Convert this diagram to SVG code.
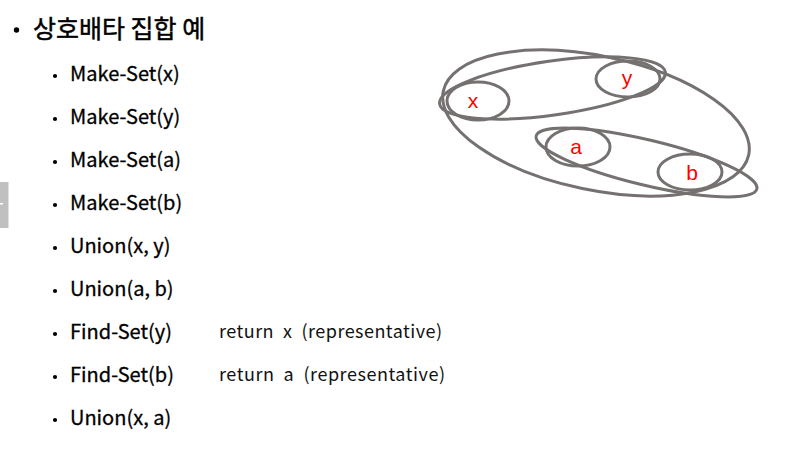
<svg xmlns="http://www.w3.org/2000/svg" width="785" height="472" viewBox="0 0 785 472">
<style>
.title{font-family:"Noto Sans CJK KR","Noto Sans",sans-serif;font-size:25px;font-weight:400;fill:#000;stroke:#000;stroke-width:0.45}
.item{font-family:"Noto Sans CJK KR","Noto Sans",sans-serif;font-size:20px;font-weight:400;fill:#000;stroke:#000;stroke-width:0.3}
.ret{font-family:"Noto Sans CJK KR","Noto Sans",sans-serif;font-size:18px;font-weight:400;fill:#111}
.dot{fill:#000}
.set{fill:none;stroke:#767171;stroke-width:3}
.lbl{font-family:"Liberation Sans","Noto Sans",sans-serif;font-size:21px;fill:#ff0000;text-anchor:middle}
</style>
<rect x="0" y="0" width="785" height="472" fill="#ffffff"/>
<g id="sidetab">
<rect x="0" y="182" width="8.5" height="46" fill="#c0c0c0"/>
<rect x="0" y="203" width="3" height="1.5" fill="#ffffff"/>
</g>
<g id="title">
<circle class="dot" cx="16.5" cy="30" r="2.7"/>
<text class="title" x="33" y="38">상호배타 집합 예</text>
</g>
<g id="list">
<g id="item1"><circle class="dot" cx="55" cy="76" r="2.1"/><text class="item" x="70" y="81">Make-Set(x)</text></g>
<g id="item2"><circle class="dot" cx="55" cy="119" r="2.1"/><text class="item" x="70" y="124">Make-Set(y)</text></g>
<g id="item3"><circle class="dot" cx="55" cy="162" r="2.1"/><text class="item" x="70" y="167">Make-Set(a)</text></g>
<g id="item4"><circle class="dot" cx="55" cy="205" r="2.1"/><text class="item" x="70" y="210">Make-Set(b)</text></g>
<g id="item5"><circle class="dot" cx="55" cy="248" r="2.1"/><text class="item" x="70" y="253">Union(x, y)</text></g>
<g id="item6"><circle class="dot" cx="55" cy="291" r="2.1"/><text class="item" x="70" y="296">Union(a, b)</text></g>
<g id="item7"><circle class="dot" cx="55" cy="334" r="2.1"/><text class="item" x="70" y="339">Find-Set(y)</text><text class="ret" x="219" y="338" textLength="223" lengthAdjust="spacing" xml:space="preserve">return  x  (representative)</text></g>
<g id="item8"><circle class="dot" cx="55" cy="377" r="2.1"/><text class="item" x="70" y="382">Find-Set(b)</text><text class="ret" x="219" y="381" textLength="226" lengthAdjust="spacing" xml:space="preserve">return  a  (representative)</text></g>
<g id="item9"><circle class="dot" cx="55" cy="420" r="2.1"/><text class="item" x="70" y="425">Union(x, a)</text></g>
</g>
<g id="sets">
<g id="set-all"><ellipse class="set" cx="596" cy="123" rx="156" ry="67" transform="rotate(11.8 596 123)"/></g>
<g id="set-xy"><ellipse class="set" cx="552.5" cy="88" rx="114" ry="27" transform="rotate(-8 552.5 88)"/></g>
<g id="set-ab"><ellipse class="set" cx="646.5" cy="162.5" rx="113.5" ry="22.6" transform="rotate(13.5 646.5 162.5)"/></g>
<g id="node-x"><ellipse class="set" cx="478" cy="101" rx="31" ry="19"/><text class="lbl" x="473" y="108">x</text></g>
<g id="node-y"><ellipse class="set" cx="628" cy="79" rx="32" ry="18"/><text class="lbl" x="627" y="85">y</text></g>
<g id="node-a"><ellipse class="set" cx="578" cy="147" rx="32" ry="19"/><text class="lbl" x="576" y="154">a</text></g>
<g id="node-b"><ellipse class="set" cx="690" cy="172" rx="32" ry="18"/><text class="lbl" x="692" y="180">b</text></g>
</g>
</svg>
